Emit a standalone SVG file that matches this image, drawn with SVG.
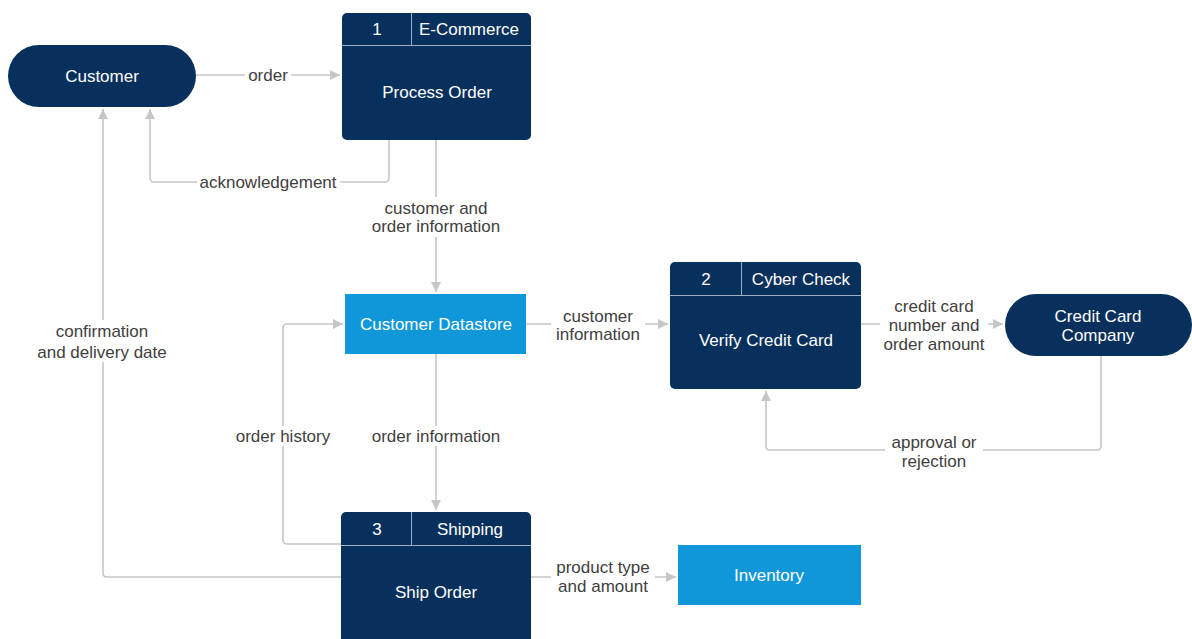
<svg xmlns="http://www.w3.org/2000/svg" width="1192" height="639" viewBox="0 0 1192 639">
<style>
.bg{fill:#ffffff}
.dark{fill:#08305c}
.light{fill:#0f97d9}
.div{stroke:#9fb0c4;stroke-width:1;fill:none}
.nt{font-family:"Liberation Sans",Arial,sans-serif;font-size:17px;fill:#ffffff;text-anchor:middle;dominant-baseline:central}
.lbl{font-family:"Liberation Sans",Arial,sans-serif;font-size:17px;fill:#404040;text-anchor:middle;dominant-baseline:central}
.cn{stroke:#c6c6c6;stroke-width:1.6;fill:none}
.lb{fill:#ffffff}
</style>
<defs>
<marker id="ah" viewBox="0 0 10 10" refX="10" refY="5" markerWidth="10" markerHeight="10" markerUnits="userSpaceOnUse" orient="auto">
<path d="M0,0 L10,5 L0,10 Z" fill="#c6c6c6"/>
</marker>
</defs>
<rect class="bg" x="0" y="0" width="1192" height="639"/>

<g id="connectors">
<path class="cn" d="M196,75 L340,75" marker-end="url(#ah)"/>
<path class="cn" d="M389,140 L389,178 Q389,182 385,182 L154,182 Q150,182 150,178 L150,109" marker-end="url(#ah)"/>
<path class="cn" d="M341,577 L107,577 Q103,577 103,573 L103,109" marker-end="url(#ah)"/>
<path class="cn" d="M436,140 L436,292" marker-end="url(#ah)"/>
<path class="cn" d="M526,324 L668,324" marker-end="url(#ah)"/>
<path class="cn" d="M861,324 L1003,324" marker-end="url(#ah)"/>
<path class="cn" d="M1101,356 L1101,446 Q1101,450 1097,450 L770,450 Q766,450 766,446 L766,391" marker-end="url(#ah)"/>
<path class="cn" d="M436,354 L436,510" marker-end="url(#ah)"/>
<path class="cn" d="M341,544 L287,544 Q283,544 283,540 L283,328 Q283,324 287,324 L343,324" marker-end="url(#ah)"/>
<path class="cn" d="M531,577 L676,577" marker-end="url(#ah)"/>

<rect class="lb" x="245" y="66" width="46" height="18"/>
<text class="lbl" x="268" y="75">order</text>
<rect class="lb" x="197" y="172" width="143" height="20"/>
<text class="lbl" x="268" y="182">acknowledgement</text>
<rect class="lb" x="368" y="197" width="136" height="40"/>
<text class="lbl" x="436" y="208">customer and</text>
<text class="lbl" x="436" y="226">order information</text>
<rect class="lb" x="33" y="320" width="140" height="42"/>
<text class="lbl" x="102" y="331">confirmation</text>
<text class="lbl" x="102" y="352">and delivery date</text>
<rect class="lb" x="551" y="305" width="94" height="40"/>
<text class="lbl" x="598" y="316">customer</text>
<text class="lbl" x="598" y="334">information</text>
<rect class="lb" x="880" y="295" width="108" height="60"/>
<text class="lbl" x="934" y="306">credit card</text>
<text class="lbl" x="934" y="325">number and</text>
<text class="lbl" x="934" y="344">order amount</text>
<rect class="lb" x="885" y="431" width="98" height="40"/>
<text class="lbl" x="934" y="442">approval or</text>
<text class="lbl" x="934" y="461">rejection</text>
<rect class="lb" x="368" y="426" width="136" height="20"/>
<text class="lbl" x="436" y="436">order information</text>
<rect class="lb" x="231" y="426" width="104" height="20"/>
<text class="lbl" x="283" y="436">order history</text>
<rect class="lb" x="551" y="556" width="104" height="40"/>
<text class="lbl" x="603" y="567">product type</text>
<text class="lbl" x="603" y="586">and amount</text>
</g>

<g id="customer">
<rect class="dark" x="8" y="45" width="188" height="62" rx="31" ry="31"/>
<text class="nt" x="102" y="76">Customer</text>
</g>

<g id="process-order">
<rect class="dark" x="342" y="13" width="189" height="127" rx="5" ry="5"/>
<path class="div" d="M342,45.5 L531,45.5 M411.5,13 L411.5,45.5"/>
<text class="nt" x="377" y="29">1</text>
<text class="nt" x="469" y="29">E-Commerce</text>
<text class="nt" x="437" y="92">Process Order</text>
</g>

<g id="customer-datastore">
<rect class="light" x="345" y="294" width="181" height="60"/>
<text class="nt" x="436" y="324">Customer Datastore</text>
</g>

<g id="verify-credit-card">
<rect class="dark" x="670" y="262" width="191" height="127" rx="5" ry="5"/>
<path class="div" d="M670,295.5 L861,295.5 M741.5,262 L741.5,295.5"/>
<text class="nt" x="706" y="279">2</text>
<text class="nt" x="801" y="279">Cyber Check</text>
<text class="nt" x="766" y="340">Verify Credit Card</text>
</g>

<g id="credit-card-company">
<rect class="dark" x="1005" y="294" width="187" height="62" rx="31" ry="31"/>
<text class="nt" x="1098" y="316">Credit Card</text>
<text class="nt" x="1098" y="335">Company</text>
</g>

<g id="ship-order">
<rect class="dark" x="341" y="512" width="190" height="132" rx="5" ry="5"/>
<path class="div" d="M341,545.5 L531,545.5 M411.5,512 L411.5,545.5"/>
<text class="nt" x="377" y="529">3</text>
<text class="nt" x="470" y="529">Shipping</text>
<text class="nt" x="436" y="592">Ship Order</text>
</g>

<g id="inventory">
<rect class="light" x="678" y="545" width="183" height="60"/>
<text class="nt" x="769" y="575">Inventory</text>
</g>
</svg>
